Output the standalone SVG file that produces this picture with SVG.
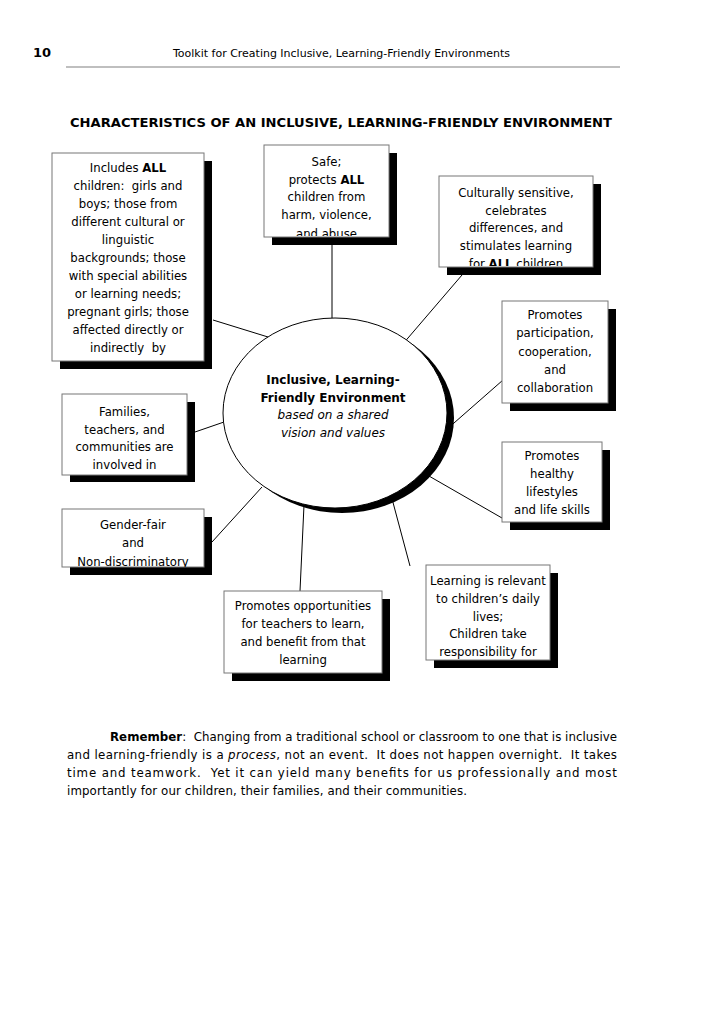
<svg xmlns="http://www.w3.org/2000/svg" width="728" height="1030" viewBox="0 0 728 1030">
<style>
text{font-family:"DejaVu Sans","Liberation Sans",sans-serif;fill:#000}
.bx{font-size:11.7px;text-anchor:middle}
.frame{fill:#fff;stroke:#777;stroke-width:1}
.shadow{fill:#000}
.conn line{stroke:#000;stroke-width:1}
.b{font-weight:bold}
.i{font-style:italic}
.para{font-size:11.8px}
</style>
<defs>
<clipPath id="c2"><rect x="264" y="145" width="125" height="91"/></clipPath>
<clipPath id="c3"><rect x="439" y="176" width="154" height="90"/></clipPath>
<clipPath id="c7"><rect x="62" y="509" width="142" height="58"/></clipPath>
</defs>
<rect width="728" height="1030" fill="#fff"/>
<g id="header">
<text x="33" y="57" font-size="13" class="b">10</text>
<text x="173" y="57" font-size="10.5" textLength="337" lengthAdjust="spacingAndGlyphs">Toolkit for Creating Inclusive, Learning-Friendly Environments</text>
<line x1="66" y1="67" x2="620" y2="67" stroke="#aaa" stroke-width="1.5"/>
</g>
<g id="title">
<text x="70" y="127" font-size="12.5" class="b" textLength="542" lengthAdjust="spacingAndGlyphs">CHARACTERISTICS OF AN INCLUSIVE, LEARNING-FRIENDLY ENVIRONMENT</text>
</g>
<g class="conn" id="connectors">
<line x1="213" y1="320" x2="268" y2="337"/>
<line x1="332" y1="245" x2="332" y2="318"/>
<line x1="462" y1="275" x2="402" y2="345"/>
<line x1="503" y1="380" x2="446" y2="430"/>
<line x1="195" y1="432" x2="224" y2="422"/>
<line x1="502" y1="518" x2="422" y2="472"/>
<line x1="212" y1="542" x2="262" y2="487"/>
<line x1="410" y1="566" x2="391" y2="495"/>
<line x1="300" y1="591" x2="304" y2="505"/>
</g>
<g id="center">
<ellipse cx="342" cy="418" rx="112" ry="95" class="shadow"/>
<ellipse cx="335" cy="413" rx="112" ry="95" fill="#fff" stroke="#000" stroke-width="1"/>
<text x="333" y="384" font-size="12" class="b" text-anchor="middle">Inclusive, Learning-</text>
<text x="333" y="402" font-size="12" class="b" text-anchor="middle">Friendly Environment</text>
<text x="333" y="419" font-size="12" class="i" text-anchor="middle">based on a shared</text>
<text x="333" y="437" font-size="12" class="i" text-anchor="middle">vision and values</text>
</g>
<g id="n1">
<rect x="60" y="161" width="152" height="208" class="shadow"/>
<rect x="52" y="153" width="152" height="208" class="frame"/>
<text class="bx" x="128" y="172">Includes <tspan class="b">ALL</tspan></text>
<text class="bx" x="128" y="190" xml:space="preserve">children:  girls and</text>
<text class="bx" x="128" y="208">boys; those from</text>
<text class="bx" x="128" y="226">different cultural or</text>
<text class="bx" x="128" y="244">linguistic</text>
<text class="bx" x="128" y="262">backgrounds; those</text>
<text class="bx" x="128" y="280">with special abilities</text>
<text class="bx" x="128" y="298">or learning needs;</text>
<text class="bx" x="128" y="316">pregnant girls; those</text>
<text class="bx" x="128" y="334">affected directly or</text>
<text class="bx" x="128" y="352" xml:space="preserve">indirectly  by</text>
</g>
<g id="n2">
<rect x="272" y="153" width="125" height="92" class="shadow"/>
<rect x="264" y="145" width="125" height="92" class="frame"/>
<g clip-path="url(#c2)">
<text class="bx" x="326.5" y="166">Safe;</text>
<text class="bx" x="326.5" y="184">protects <tspan class="b">ALL</tspan></text>
<text class="bx" x="326.5" y="201">children from</text>
<text class="bx" x="326.5" y="219">harm, violence,</text>
<text class="bx" x="326.5" y="238">and abuse</text>
</g>
</g>
<g id="n3">
<rect x="447" y="184" width="154" height="91" class="shadow"/>
<rect x="439" y="176" width="154" height="91" class="frame"/>
<g clip-path="url(#c3)">
<text class="bx" x="516" y="197">Culturally sensitive,</text>
<text class="bx" x="516" y="215">celebrates</text>
<text class="bx" x="516" y="232">differences, and</text>
<text class="bx" x="516" y="250">stimulates learning</text>
<text class="bx" x="516" y="268">for <tspan class="b">ALL</tspan> children</text>
</g>
</g>
<g id="n4">
<rect x="510" y="309" width="106" height="102" class="shadow"/>
<rect x="502" y="301" width="106" height="102" class="frame"/>
<text class="bx" x="555" y="319">Promotes</text>
<text class="bx" x="555" y="337">participation,</text>
<text class="bx" x="555" y="356">cooperation,</text>
<text class="bx" x="555" y="374">and</text>
<text class="bx" x="555" y="392">collaboration</text>
</g>
<g id="n5">
<rect x="70" y="402" width="125" height="80" class="shadow"/>
<rect x="62" y="394" width="125" height="81" class="frame"/>
<text class="bx" x="124.5" y="416">Families,</text>
<text class="bx" x="124.5" y="434">teachers, and</text>
<text class="bx" x="124.5" y="451">communities are</text>
<text class="bx" x="124.5" y="469">involved in</text>
</g>
<g id="n6">
<rect x="510" y="450" width="100" height="80" class="shadow"/>
<rect x="502" y="442" width="100" height="80" class="frame"/>
<text class="bx" x="552" y="460">Promotes</text>
<text class="bx" x="552" y="478">healthy</text>
<text class="bx" x="552" y="496">lifestyles</text>
<text class="bx" x="552" y="514">and life skills</text>
</g>
<g id="n7">
<rect x="70" y="517" width="142" height="58" class="shadow"/>
<rect x="62" y="509" width="142" height="58" class="frame"/>
<g clip-path="url(#c7)">
<text class="bx" x="133" y="529">Gender-fair</text>
<text class="bx" x="133" y="547">and</text>
<text class="bx" x="133" y="566">Non-discriminatory</text>
</g>
</g>
<g id="n8">
<rect x="434" y="573" width="124" height="95" class="shadow"/>
<rect x="426" y="565" width="124" height="95" class="frame"/>
<text class="bx" x="488" y="585">Learning is relevant</text>
<text class="bx" x="488" y="603">to children’s daily</text>
<text class="bx" x="488" y="621">lives;</text>
<text class="bx" x="488" y="638">Children take</text>
<text class="bx" x="488" y="656">responsibility for</text>
</g>
<g id="n9">
<rect x="232" y="599" width="158" height="82" class="shadow"/>
<rect x="224" y="591" width="158" height="82" class="frame"/>
<text class="bx" x="303" y="610">Promotes opportunities</text>
<text class="bx" x="303" y="628">for teachers to learn,</text>
<text class="bx" x="303" y="646">and benefit from that</text>
<text class="bx" x="303" y="664">learning</text>
</g>
<g id="paragraph" class="para">
<text x="110" y="741" textLength="507" lengthAdjust="spacing" xml:space="preserve"><tspan class="b">Remember</tspan>:  Changing from a traditional school or classroom to one that is inclusive</text>
<text x="67" y="759" textLength="550" lengthAdjust="spacing" xml:space="preserve">and learning-friendly is a <tspan class="i">process</tspan>, not an event.  It does not happen overnight.  It takes</text>
<text x="67" y="777" textLength="550" lengthAdjust="spacing" xml:space="preserve">time and teamwork.  Yet it can yield many benefits for us professionally and most</text>
<text x="67" y="795" textLength="400" lengthAdjust="spacing">importantly for our children, their families, and their communities.</text>
</g>
</svg>
